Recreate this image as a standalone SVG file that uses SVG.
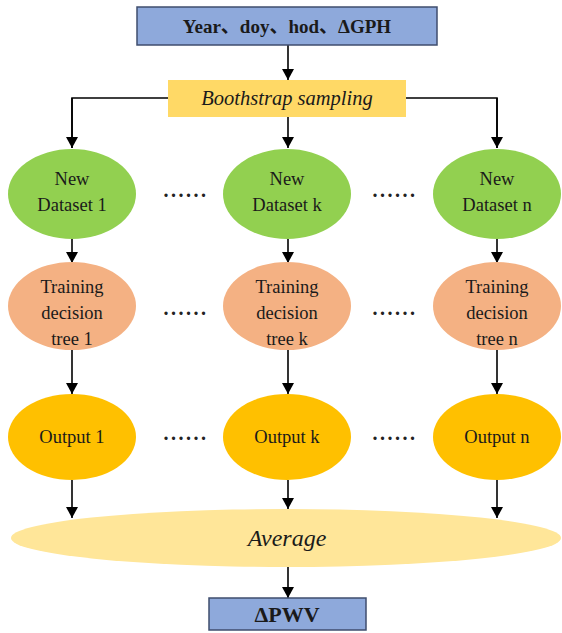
<svg xmlns="http://www.w3.org/2000/svg" width="562" height="633" viewBox="0 0 562 633">
<defs>
<marker id="ah" markerWidth="11" markerHeight="12" refX="11" refY="6" orient="auto" markerUnits="userSpaceOnUse">
<path d="M0,0 L11,6 L0,12 Z" fill="#000"/>
</marker>
<style>
.t{font-family:"Liberation Serif","Times New Roman","Noto Sans CJK SC",serif;font-size:18.5px;fill:#1a1a1a;text-anchor:middle}
.b{font-weight:bold}
.i{font-style:italic}
.c{stroke:#000;stroke-width:1.6;fill:none}
.a{stroke:#000;stroke-width:1.6;fill:none;marker-end:url(#ah)}
.green{fill:#92D050}
.peach{fill:#F4B183}
.gold{fill:#FFC000}
.dots{font-family:"Liberation Serif",serif;font-size:20px;font-weight:bold;fill:#222;text-anchor:middle;letter-spacing:2.5px}
</style>
</defs>
<rect width="562" height="633" fill="#fff"/>
<g id="connectors">
<line class="a" x1="288" y1="45" x2="288" y2="80"/>
<polyline class="c" points="72,148 72,98 497,98 497,148"/>
<line class="a" x1="72" y1="98" x2="72" y2="148"/>
<line class="a" x1="288" y1="117" x2="288" y2="148"/>
<line class="a" x1="497" y1="98" x2="497" y2="148"/>
<line class="a" x1="72" y1="239" x2="72" y2="263"/>
<line class="a" x1="288" y1="239" x2="288" y2="263"/>
<line class="a" x1="497" y1="239" x2="497" y2="263"/>
<line class="a" x1="72" y1="350" x2="72" y2="394"/>
<line class="a" x1="288" y1="350" x2="288" y2="394"/>
<line class="a" x1="497" y1="350" x2="497" y2="394"/>
<line class="a" x1="72" y1="480" x2="72" y2="518"/>
<line class="a" x1="288" y1="480" x2="288" y2="509"/>
<line class="a" x1="497" y1="480" x2="497" y2="518"/>
<line class="a" x1="288" y1="567" x2="288" y2="598"/>
</g>
<g id="input">
<rect x="137" y="7" width="300" height="38" fill="#8EA9DB" stroke="#3F4D6E" stroke-width="1.5"/>
<text class="t b" x="287" y="33" style="font-size:19px">Year、doy、hod、ΔGPH</text>
</g>
<g id="bootstrap">
<rect x="168" y="80" width="238" height="37" fill="#FFD966"/>
<text class="t i" x="287" y="105" style="font-size:20.5px">Boothstrap sampling</text>
</g>
<g id="ds1"><ellipse class="green" cx="72" cy="194" rx="64" ry="45"/><text class="t" x="72" y="185">New</text><text class="t" x="72" y="211">Dataset 1</text></g>
<g id="dsk"><ellipse class="green" cx="287" cy="194" rx="64" ry="45"/><text class="t" x="287" y="185">New</text><text class="t" x="287" y="211">Dataset k</text></g>
<g id="dsn"><ellipse class="green" cx="497" cy="194" rx="64" ry="45"/><text class="t" x="497" y="185">New</text><text class="t" x="497" y="211">Dataset n</text></g>
<g id="tr1"><ellipse class="peach" cx="72" cy="306" rx="64" ry="44"/><text class="t" x="72" y="293">Training</text><text class="t" x="72" y="319">decision</text><text class="t" x="72" y="345">tree 1</text></g>
<g id="trk"><ellipse class="peach" cx="287" cy="306" rx="64" ry="44"/><text class="t" x="287" y="293">Training</text><text class="t" x="287" y="319">decision</text><text class="t" x="287" y="345">tree k</text></g>
<g id="trn"><ellipse class="peach" cx="497" cy="306" rx="64" ry="44"/><text class="t" x="497" y="293">Training</text><text class="t" x="497" y="319">decision</text><text class="t" x="497" y="345">tree n</text></g>
<g id="out1"><ellipse class="gold" cx="72" cy="437" rx="64" ry="43"/><text class="t" x="72" y="443">Output 1</text></g>
<g id="outk"><ellipse class="gold" cx="287" cy="437" rx="64" ry="43"/><text class="t" x="287" y="443">Output k</text></g>
<g id="outn"><ellipse class="gold" cx="497" cy="437" rx="64" ry="43"/><text class="t" x="497" y="443">Output n</text></g>
<g id="dots">
<text class="dots" x="186" y="197">......</text>
<text class="dots" x="395" y="197">......</text>
<text class="dots" x="186" y="315">......</text>
<text class="dots" x="395" y="315">......</text>
<text class="dots" x="186" y="440">......</text>
<text class="dots" x="395" y="440">......</text>
</g>
<g id="average">
<ellipse cx="286" cy="538" rx="275" ry="29" fill="#FFE699"/>
<text class="t i" x="287" y="546" style="font-size:24px">Average</text>
</g>
<g id="output">
<rect x="209" y="598" width="157" height="32" fill="#8EA9DB" stroke="#3F4D6E" stroke-width="1.5"/>
<text class="t b" x="287" y="622" style="font-size:22px">ΔPWV</text>
</g>
</svg>
